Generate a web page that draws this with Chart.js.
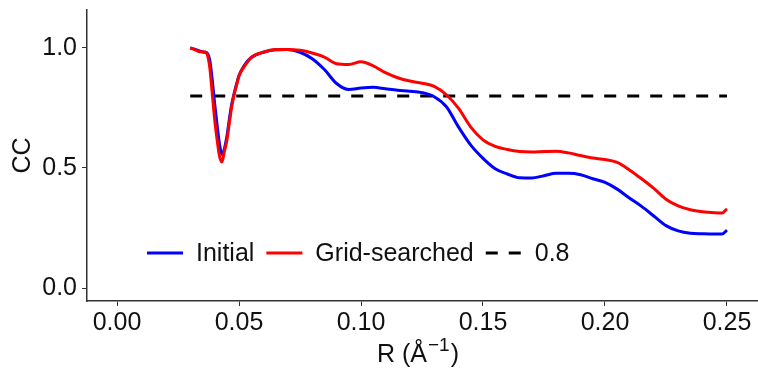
<!DOCTYPE html>
<html>
<head>
<meta charset="utf-8">
<script src="https://cdn.jsdelivr.net/npm/chart.js@4"></script>
<style>
	body { margin: 0; background: #fff; }
	canvas { display: block; }
</style>
</head>
<body>
<canvas id="chart" width="758" height="370"></canvas>
<script>
"use strict";


const fontFamily = "'Liberation Sans', Arial, sans-serif";
const textColor = "#111";
const axisColor = "#333";


// R values (1/Å) shared by both curves
const rValues = [
	0.030, 0.032, 0.034, 0.036, 0.037, 0.038, 0.039, 0.040, 0.041, 0.042,
	0.043, 0.044, 0.045, 0.046, 0.047, 0.048, 0.049, 0.050, 0.052, 0.055,
	0.060, 0.065, 0.070, 0.075, 0.080, 0.085, 0.090, 0.095, 0.100, 0.105,
	0.110, 0.115, 0.120, 0.125, 0.130, 0.135, 0.140, 0.145, 0.150, 0.155,
	0.160, 0.165, 0.170, 0.175, 0.180, 0.185, 0.190, 0.195, 0.200, 0.205,
	0.210, 0.215, 0.220, 0.225, 0.230, 0.235, 0.240, 0.245, 0.248, 0.250,
];

const initialCC = [
	1.000, 0.994, 0.986, 0.982, 0.978, 0.950, 0.870, 0.770, 0.680, 0.600,
	0.556, 0.580, 0.630, 0.700, 0.765, 0.810, 0.850, 0.885, 0.925, 0.960,
	0.982, 0.992, 0.993, 0.982, 0.955, 0.910, 0.852, 0.827, 0.833, 0.836,
	0.830, 0.824, 0.820, 0.814, 0.797, 0.755, 0.670, 0.595, 0.540, 0.497,
	0.475, 0.459, 0.458, 0.468, 0.478, 0.478, 0.472, 0.455, 0.440, 0.412,
	0.375, 0.340, 0.300, 0.260, 0.238, 0.228, 0.226, 0.225, 0.225, 0.241,
];

const gridCC = [
	1.000, 0.992, 0.984, 0.983, 0.972, 0.920, 0.815, 0.705, 0.620, 0.550,
	0.525, 0.570, 0.613, 0.685, 0.755, 0.805, 0.845, 0.883, 0.920, 0.960,
	0.982, 0.993, 0.994, 0.990, 0.979, 0.962, 0.934, 0.931, 0.942, 0.925,
	0.897, 0.876, 0.862, 0.853, 0.840, 0.805, 0.748, 0.670, 0.617, 0.590,
	0.577, 0.569, 0.567, 0.569, 0.570, 0.563, 0.552, 0.542, 0.535, 0.523,
	0.492, 0.455, 0.415, 0.370, 0.342, 0.326, 0.318, 0.314, 0.313, 0.330,
];

const thresholdR = [0.030, 0.250];
const thresholdCC = [0.8, 0.8];

const xTicks = [0.00, 0.05, 0.10, 0.15, 0.20, 0.25];
const yTicks = [0.0, 0.5, 1.0];

const legendItems = [
	{ label: "Initial", color: "#0000ff", dash: [] },
	{ label: "Grid-searched", color: "#ff0000", dash: [] },
	{ label: "0.8", color: "#000000", dash: [12, 11] },
];


function toPoints(xs, ys) {
	return xs.map((x, i) => ({ x: x, y: ys[i] }));
}


// legend drawn inside the panel, one row, ggplot style
const insideLegend = {
	id: "insideLegend",
	afterDraw(chart) {
		const ctx = chart.ctx;
		const area = chart.chartArea;
		const y = 253;
		let x = area.left + 60;

		ctx.save();
		ctx.font = "25px " + fontFamily;
		ctx.textBaseline = "middle";
		ctx.fillStyle = textColor;
		legendItems.forEach(item => {
			ctx.beginPath();
			ctx.setLineDash(item.dash);
			ctx.strokeStyle = item.color;
			ctx.lineWidth = 3;
			ctx.moveTo(x, y);
			ctx.lineTo(x + 36, y);
			ctx.stroke();
			ctx.setLineDash([]);
			x += 49;
			ctx.fillText(item.label, x, y + 1);
			x += ctx.measureText(item.label).width + 12;
		});
		ctx.restore();
	}
};


// x title with a real superscript
const xTitle = {
	id: "xTitle",
	afterDraw(chart) {
		const ctx = chart.ctx;
		const area = chart.chartArea;
		const base = 362;
		const big = "25px " + fontFamily;
		const small = "19px " + fontFamily;

		ctx.save();
		ctx.fillStyle = textColor;
		ctx.textBaseline = "alphabetic";
		ctx.font = big;
		const w1 = ctx.measureText("R (Å").width;
		const w3 = ctx.measureText(")").width;
		ctx.font = small;
		const w2 = ctx.measureText("\u22121").width;
		let x = (area.left + area.right) / 2 - 5 - (w1 + w2 + w3) / 2;

		ctx.font = big;
		ctx.fillText("R (Å", x, base);
		x += w1 + 1;
		ctx.font = small;
		ctx.fillText("\u22121", x, base - 11);
		x += w2 + 1;
		ctx.font = big;
		ctx.fillText(")", x, base);
		ctx.restore();
	}
};


const ctx = document.getElementById("chart").getContext("2d");

new Chart(ctx, {
	type: "line",
	data: {
		datasets: [
			{
				label: "Grid-searched",
				data: toPoints(rValues, gridCC),
				borderColor: "#ff0000",
			},
			{
				label: "Initial",
				data: toPoints(rValues, initialCC),
				borderColor: "#0000ff",
			},
			{
				label: "0.8",
				data: toPoints(thresholdR, thresholdCC),
				borderColor: "#000000",
				borderDash: [12, 11],
			},
		].map(set => ({
			borderWidth: 3,
			pointRadius: 0,
			fill: false,
			cubicInterpolationMode: "monotone",
			...set,
		})),
	},
	options: {
		responsive: false,
		animation: false,
		layout: {
			padding: { top: 10, right: 1, left: 0, bottom: 0 },
		},
		plugins: {
			legend: { display: false },
			tooltip: { enabled: false },
		},
		scales: {
			x: {
				type: "linear",
				min: -0.0123,
				max: 0.2623,
				afterBuildTicks: scale => {
					scale.ticks = xTicks.map(v => ({ value: v }));
				},
				afterFit: scale => {
					scale.height = 69;
					scale.paddingLeft = 0;
					scale.paddingRight = 0;
				},
				ticks: {
					color: textColor,
					padding: 2,
					maxRotation: 0,
					font: { family: fontFamily, size: 25 },
					callback: value => Number(value).toFixed(2),
				},
				grid: {
					drawOnChartArea: false,
					drawTicks: true,
					tickLength: 5,
					color: axisColor,
				},
				border: { display: true, color: axisColor, width: 1.5 },
			},
			y: {
				min: -0.054,
				max: 1.158,
				afterBuildTicks: scale => {
					scale.ticks = yTicks.map(v => ({ value: v }));
				},
				afterFit: scale => {
					scale.width = 87;
					scale.paddingTop = 0;
					scale.paddingBottom = 0;
				},
				ticks: {
					color: textColor,
					padding: 5,
					font: { family: fontFamily, size: 25 },
					callback: value => Number(value).toFixed(1),
				},
				grid: {
					drawOnChartArea: false,
					drawTicks: true,
					tickLength: 5,
					color: axisColor,
				},
				border: { display: true, color: axisColor, width: 1.5 },
				title: {
					display: true,
					text: "CC",
					color: textColor,
					padding: { top: 8, bottom: 0 },
					font: { family: fontFamily, size: 25 },
				},
			},
		},
	},
	plugins: [insideLegend, xTitle],
});
</script>
</body>
</html>
